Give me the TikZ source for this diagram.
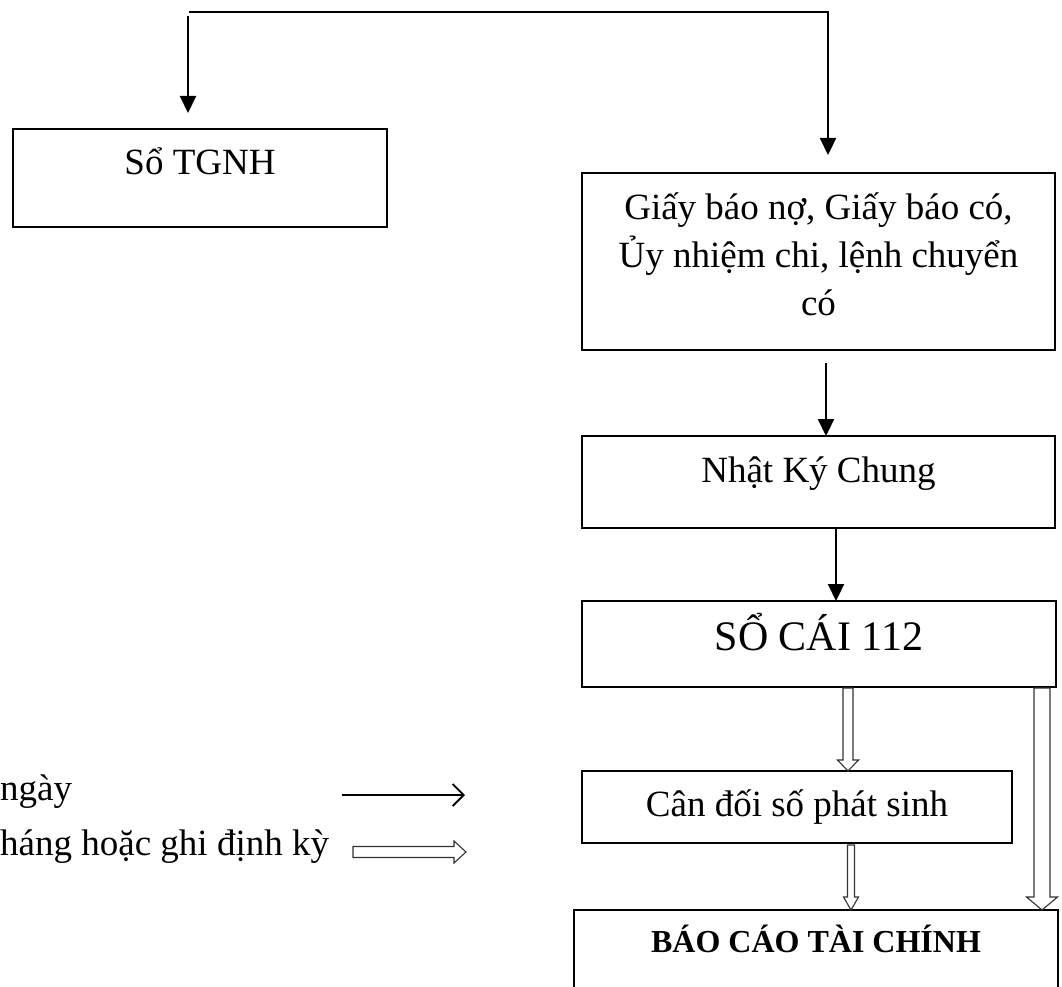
\documentclass[tikz,border=0pt]{standalone}
\usepackage{fontspec}
\setmainfont{Liberation Serif}
\usetikzlibrary{arrows.meta,calc}

\tikzset{
  box/.style={draw, line width=2pt, inner sep=0pt, outer sep=0pt, anchor=north west},
  txt/.style={anchor=base, inner sep=0pt, font=\fontsize{37}{48}\selectfont},
  arr/.style={line width=2.2pt, -{Triangle[width=16pt,length=17pt]}},
  hollow/.style={draw=black!80, line width=1.1pt, fill=white, line join=miter},
}

% outlined block arrow pointing down: start, tip, shaft half width, head half width, head length
\newcommand\hollowdown[5]{%
  \draw[hollow] ($(#1)+(-#3,0)$) -- ($(#2)+(-#3,-#5)$) -- ($(#2)+(-#4,-#5)$) -- (#2)
    -- ($(#2)+(#4,-#5)$) -- ($(#2)+(#3,-#5)$) -- ($(#1)+(#3,0)$) -- cycle;}

\begin{document}
\begin{tikzpicture}[x=1pt, y=-1pt]
\useasboundingbox (0,0) rectangle (1062,987);
\clip (0,0) rectangle (1062,987);

% boxes
\node[box, minimum width=374pt, minimum height=98pt]  (tg) at (13,129) {};
\node[box, minimum width=473pt, minimum height=177pt] (gi) at (582,173) {};
\node[box, minimum width=473pt, minimum height=92pt]  (nk) at (582,436) {};
\node[box, minimum width=474pt, minimum height=86pt]  (sc) at (582,601) {};
\node[box, minimum width=430pt, minimum height=72pt]  (cd) at (582,771) {};
\node[box, minimum width=484pt, minimum height=110pt] (bc) at (574,910) {};

% box texts
\node[txt] (tgT) at ($(tg.north)+(0,46)$) {Sổ TGNH};
\node[txt, align=center] (giT) at ($(gi.north)+(0,142)$)
  {Giấy báo nợ, Giấy báo có,\\Ủy nhiệm chi, lệnh chuyển\\có};
\node[txt] (nkT) at ($(nk.north)+(0,46)$) {Nhật Ký Chung};
\node[txt, font=\fontsize{42}{50}\selectfont] (scT) at ($(sc.north)+(0,49)$) {SỔ CÁI 112};
\node[txt] (cdT) at ($(cd.north)+(0,45)$) {Cân đối số phát sinh};
\node[txt, font=\fontsize{32}{38}\selectfont\bfseries] (bcT) at ($(bc.north)+(0,42)$) {BÁO CÁO TÀI CHÍNH};

% daily flow (solid arrows)
\coordinate (tl) at (189,12);
\coordinate (tr) at (828,12);
\coordinate (tl2) at (188,16);
\draw[arr, shorten >=18pt] (tl) -- (tr) -- (tr |- gi.north);
\draw[arr, shorten >=16pt] (tl2) -- (tl2 |- tg.north);

\coordinate (g1) at ([xshift=7.5pt]gi.south);
\draw[arr, shorten <=13pt] (g1) -- (g1 |- nk.north);
\coordinate (n1) at ([xshift=17.5pt]nk.south);
\draw[arr] (n1) -- (n1 |- sc.north);

% periodic flow (outlined arrows)
\coordinate (s1) at ([xshift=29pt,yshift=-1pt]sc.south);
\coordinate (s1t) at (s1 |- cd.north);
\hollowdown{s1}{s1t}{5}{10.5}{11}
\coordinate (c1) at ([xshift=54pt,yshift=-2pt]cd.south);
\coordinate (c1t) at (c1 |- bc.north);
\hollowdown{c1}{c1t}{3.5}{7.5}{13}
\coordinate (s2) at ([xshift=-14pt,yshift=-1pt]sc.south east);
\coordinate (s2t) at (s2 |- bc.north);
\hollowdown{s2}{s2t}{8}{15.5}{13}

% legend
\node[txt, anchor=base west] (lg1) at (0,800) {ngày};
\node[txt, anchor=base west] (lg2) at (0,855) {háng hoặc ghi định kỳ};
\coordinate (la) at (342,795);
\coordinate (lb) at (465,795);
\draw[line width=1.8pt, -{Straight Barb[length=11pt,width=22pt]}] (la) -- (lb);
\coordinate (ha) at (353,852);
\coordinate (hb) at (466,852);
\draw[hollow] ($(ha)+(0,-5.5)$) -- ($(hb)+(-12,-5.5)$) -- ($(hb)+(-12,-11)$) -- (hb)
  -- ($(hb)+(-12,11)$) -- ($(hb)+(-12,5.5)$) -- ($(ha)+(0,5.5)$) -- cycle;
\end{tikzpicture}
\end{document}
